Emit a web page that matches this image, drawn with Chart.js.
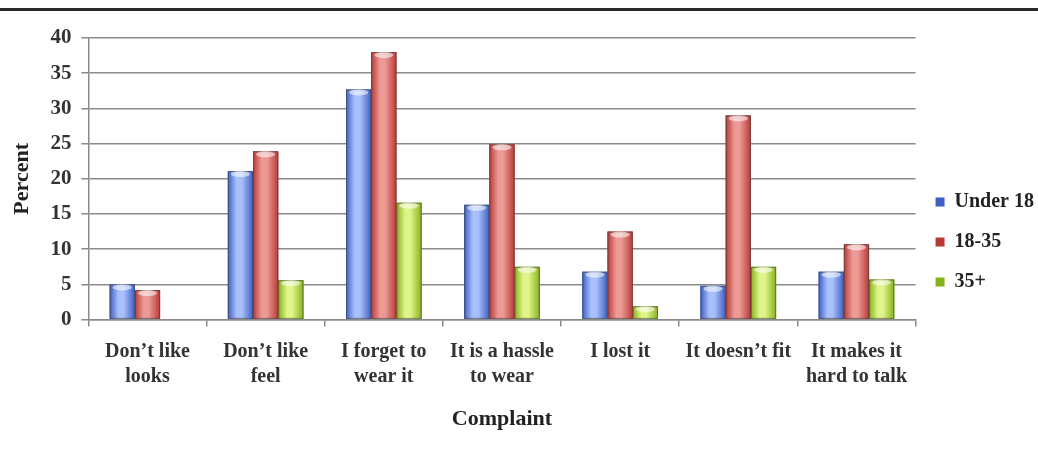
<!DOCTYPE html>
<html>
<head>
<meta charset="utf-8">
<script src="https://cdn.jsdelivr.net/npm/chart.js@4.4.1/dist/chart.umd.min.js"></script>
<style>
  html, body { margin: 0; padding: 0; background: #fff; }
  #wrap { position: relative; width: 1038px; height: 451px; }
  #rule { position: absolute; left: 0; top: 8px; width: 1038px; height: 3px; background: #2a2a2a; }
  canvas { position: absolute; left: 0; top: 0; }
</style>
</head>
<body>
<div id="wrap">
  <canvas id="chart" width="1038" height="451"></canvas>
  <div id="rule"></div>
</div>
<script>
const categories = [
    ['Don\u2019t like', 'looks'],
    ['Don\u2019t like', 'feel'],
    ['I forget to', 'wear it'],
    ['It is a hassle', 'to wear'],
    'I lost it',
    'It doesn\u2019t fit',
    ['It makes it', 'hard to talk']
];
const under18 = [5, 21.1, 32.7, 16.3, 6.8, 4.8, 6.8];
const age18to35 = [4.2, 23.9, 38, 24.9, 12.5, 29, 10.7];
const over35 = [0, 5.6, 16.6, 7.5, 1.9, 7.5, 5.7];
const yTicks = [0, 5, 10, 15, 20, 25, 30, 35, 40];

const serif = "'Liberation Serif', 'DejaVu Serif', serif";

// colours: [dark edge, light centre]
const shades = [
    ['#3e5fc4', '#a9c1fa'],
    ['#b83a36', '#ec9a96'],
    ['#86b21c', '#dff58a']
];

// paints a cylinder-ish shading over each bar, using the bar's own geometry
const shadePlugin = {
    id: 'shade',
    afterDatasetDraw(chart, args) {
        const c = chart.ctx;
        const pair = shades[args.index];
        args.meta.data.forEach(bar => {
            const p = bar.getProps(['x', 'y', 'base', 'width'], true);
            const h = p.base - p.y;
            if (h <= 0.5) return;
            const left = p.x - p.width / 2;
            const g = c.createLinearGradient(left, 0, left + p.width, 0);
            g.addColorStop(0, pair[0]);
            g.addColorStop(0.35, pair[1]);
            g.addColorStop(0.55, pair[1]);
            g.addColorStop(1, pair[0]);
            c.save();
            c.fillStyle = g;
            c.fillRect(left, p.y, p.width, h);
            c.strokeStyle = 'rgba(60,60,60,0.55)';
            c.lineWidth = 1;
            c.strokeRect(left + 0.5, p.y + 0.5, p.width - 1, h - 1);
            // light cap on top
            c.fillStyle = 'rgba(255,255,255,0.55)';
            c.beginPath();
            c.ellipse(p.x, p.y + 3, p.width / 2 - 3, 3, 0, 0, Math.PI * 2);
            c.fill();
            c.restore();
        });
    }
};

const ctx = document.getElementById('chart').getContext('2d');

const chart = new Chart(ctx, {
    type: 'bar',
    data: {
        labels: categories,
        datasets: [
            { label: 'Under 18', data: under18, backgroundColor: shades[0][0] },
            { label: '18-35', data: age18to35, backgroundColor: shades[1][0] },
            { label: '35+', data: over35, backgroundColor: shades[2][0] }
        ]
    },
    options: {
        responsive: false,
        animation: false,
        layout: { padding: { top: 38, right: -6, bottom: 14, left: 5 } },
        datasets: {
            bar: { barPercentage: 1, categoryPercentage: 0.64 }
        },
        plugins: {
            tooltip: { enabled: false },
            legend: {
                position: 'right',
                title: { display: true, text: ' ', font: { size: 1 }, padding: { top: 4, bottom: 4 } },
                labels: {
                    boxWidth: 9,
                    boxHeight: 9,
                    padding: 20,
                    color: '#222',
                    font: { family: serif, size: 20, weight: 'bold' },
                    generateLabels(chart) {
                        return chart.data.datasets.map((ds, i) => ({
                            text: ds.label,
                            fillStyle: shades[i][0],
                            strokeStyle: shades[i][0],
                            fontColor: '#222',
                            lineWidth: 0,
                            datasetIndex: i
                        }));
                    }
                }
            }
        },
        scales: {
            x: {
                grid: {
                    offset: true,
                    drawOnChartArea: false,
                    drawTicks: true,
                    tickLength: 7,
                    color: '#8a8a8a',
                    lineWidth: 1.5
                },
                border: { color: '#8a8a8a', width: 1.5 },
                ticks: {
                    color: '#333',
                    padding: 13,
                    maxRotation: 0,
                    autoSkip: false,
                    font: { family: serif, size: 20, weight: 'bold', lineHeight: 1.25 }
                },
                title: {
                    display: true,
                    text: 'Complaint',
                    color: '#222',
                    padding: { top: 4, bottom: 4 },
                    font: { family: serif, size: 22, weight: 'bold' }
                }
            },
            y: {
                min: 0,
                max: 40,
                afterBuildTicks(axis) {
                    axis.ticks = yTicks.map(v => ({ value: v }));
                },
                grid: {
                    color: '#8a8a8a',
                    lineWidth: 1.5,
                    tickLength: 7
                },
                border: { color: '#8a8a8a', width: 1.5 },
                ticks: {
                    color: '#333',
                    padding: 10,
                    font: { family: serif, size: 21, weight: 'bold' }
                },
                title: {
                    display: true,
                    text: 'Percent',
                    color: '#222',
                    padding: { top: 4, bottom: 5 },
                    font: { family: serif, size: 22, weight: 'bold' }
                }
            }
        }
    },
    plugins: [shadePlugin]
});
</script>
</body>
</html>
